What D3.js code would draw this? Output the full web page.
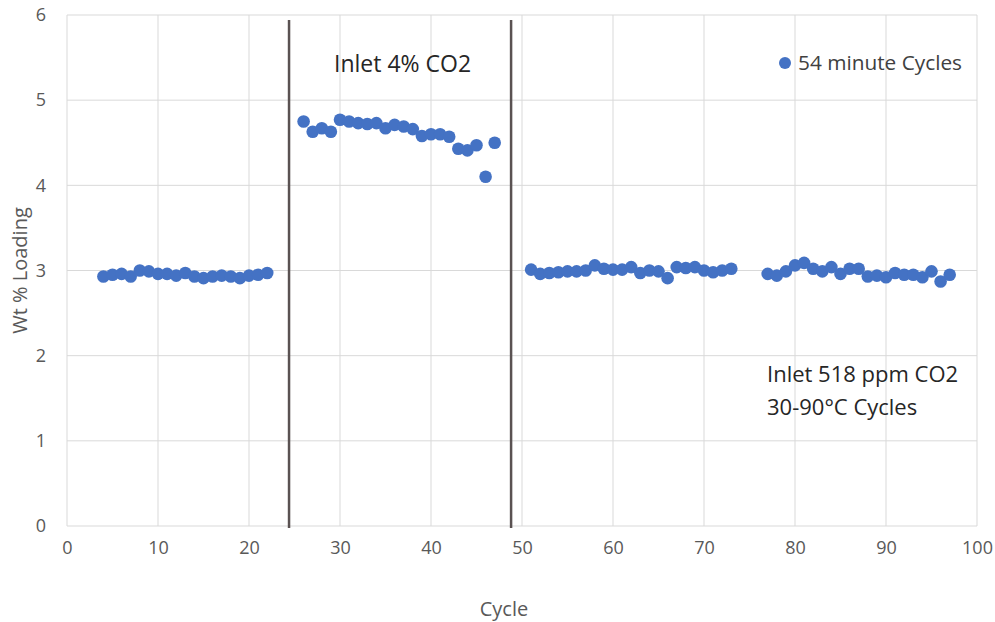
<!DOCTYPE html>
<html>
<head>
<meta charset="utf-8">
<script src="https://cdn.jsdelivr.net/npm/d3@7"></script>
<style>
  body { margin: 0; background: #fff; }
  text { font-family: "Open Sans", "Noto Sans", sans-serif; }
  .tick text { fill: #595959; font-size: 18px; }
</style>
</head>
<body>
<script>
// cycle numbers and wt% loading
var cycles = [4,5,6,7,8,9,10,11,12,13,14,15,16,17,18,19,20,21,22,
  26,27,28,29,30,31,32,33,34,35,36,37,38,39,40,41,42,43,44,45,46,47,
  51,52,53,54,55,56,57,58,59,60,61,62,63,64,65,66,67,68,69,70,71,72,73,
  77,78,79,80,81,82,83,84,85,86,87,88,89,90,91,92,93,94,95,96,97];
var loading = [2.93,2.95,2.96,2.93,3.00,2.99,2.96,2.96,2.94,2.97,2.93,2.91,2.93,2.94,2.93,2.91,2.94,2.95,2.97,
  4.75,4.63,4.67,4.63,4.77,4.75,4.73,4.72,4.73,4.67,4.71,4.69,4.66,4.58,4.60,4.60,4.57,4.43,4.41,4.47,4.10,4.50,
  3.01,2.96,2.97,2.98,2.99,2.99,3.00,3.06,3.02,3.01,3.01,3.04,2.97,3.00,2.99,2.91,3.04,3.03,3.04,3.00,2.98,3.00,3.02,
  2.96,2.94,2.99,3.06,3.09,3.02,2.99,3.04,2.96,3.02,3.02,2.93,2.94,2.92,2.97,2.95,2.95,2.92,2.99,2.87,2.95];
var dividers = [24.4, 48.8];
var xTicks = [0,10,20,30,40,50,60,70,80,90,100];
var yTicks = [0,1,2,3,4,5,6];

var margin = {top: 15, right: 18, bottom: 96, left: 67};
var width = 995 - margin.left - margin.right,
    height = 622 - margin.top - margin.bottom;

var svg = d3.select("body").append("svg")
  .attr("width", 995)
  .attr("height", 622);

var g = svg.append("g")
  .attr("transform", "translate(" + margin.left + "," + margin.top + ")");

var x = d3.scaleLinear().domain([0, 100]).range([0, width]);
var y = d3.scaleLinear().domain([0, 6]).range([height, 0]);

// gridlines
g.selectAll(".hgrid").data(yTicks).enter().append("line")
  .attr("x1", 0).attr("x2", width)
  .attr("y1", function(d){ return y(d); }).attr("y2", function(d){ return y(d); })
  .attr("stroke", "#d9d9d9").attr("stroke-width", 1);
g.selectAll(".vgrid").data(xTicks).enter().append("line")
  .attr("x1", function(d){ return x(d); }).attr("x2", function(d){ return x(d); })
  .attr("y1", 0).attr("y2", height)
  .attr("stroke", "#d9d9d9").attr("stroke-width", 1);

// axes (labels only, lines come from the grid)
var xAxis = g.append("g")
  .attr("transform", "translate(0," + height + ")")
  .call(d3.axisBottom(x).tickValues(xTicks).tickFormat(d3.format("d")).tickSize(0).tickPadding(15));
var yAxis = g.append("g")
  .call(d3.axisLeft(y).tickValues(yTicks).tickFormat(d3.format("d")).tickSize(0).tickPadding(21));
xAxis.select(".domain").remove();
yAxis.select(".domain").remove();

// condition dividers
g.selectAll(".divider").data(dividers).enter().append("line")
  .attr("x1", function(d){ return x(d); }).attr("x2", function(d){ return x(d); })
  .attr("y1", 5).attr("y2", height + 2)
  .attr("stroke", "#5a5252").attr("stroke-width", 2.5);

// points
var pts = cycles.map(function(c, i){ return {c: c, v: loading[i]}; });
g.selectAll("circle.pt").data(pts).enter().append("circle")
  .attr("class", "pt")
  .attr("cx", function(d){ return x(d.c); })
  .attr("cy", function(d){ return y(d.v); })
  .attr("r", 6.3)
  .attr("fill", "#4472c4");

// legend
svg.append("circle").attr("cx", 785).attr("cy", 63).attr("r", 6).attr("fill", "#4472c4");
svg.append("text").attr("x", 798).attr("y", 70)
  .attr("font-size", 20.8).attr("fill", "#404040")
  .text("54 minute Cycles");

// annotations
svg.append("text").attr("x", 334).attr("y", 72)
  .attr("font-size", 23).attr("fill", "#262626")
  .text("Inlet 4% CO2");
svg.append("text").attr("x", 767).attr("y", 382)
  .attr("font-size", 22).attr("fill", "#262626")
  .text("Inlet 518 ppm CO2");
svg.append("text").attr("x", 767).attr("y", 415)
  .attr("font-size", 22).attr("fill", "#262626")
  .text("30-90°C Cycles");

// axis titles
svg.append("text")
  .attr("transform", "translate(27," + (margin.top + height / 2) + ") rotate(-90)")
  .attr("text-anchor", "middle")
  .attr("font-size", 20).attr("fill", "#595959")
  .text("Wt % Loading");
svg.append("text")
  .attr("x", 504).attr("y", 616)
  .attr("text-anchor", "middle")
  .attr("font-size", 20).attr("fill", "#595959")
  .text("Cycle");
</script>
</body>
</html>
